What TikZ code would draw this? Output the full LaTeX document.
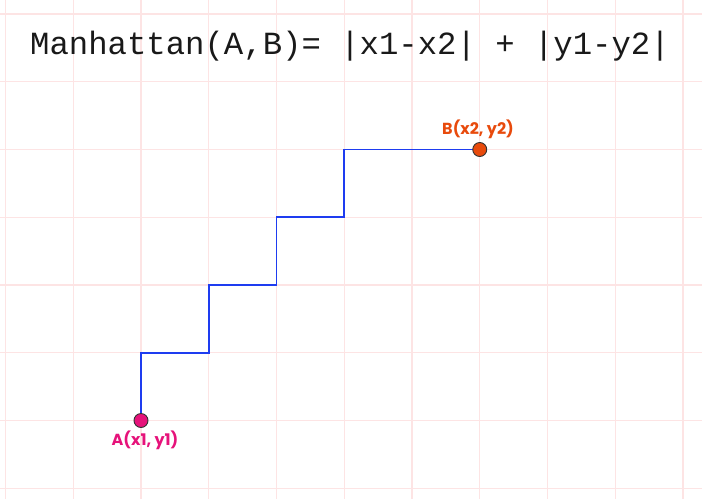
\documentclass[tikz,border=0pt]{standalone}
\usepackage{fontspec}
\setmonofont{Liberation Mono}
\newfontfamily\labfont{Poppins}
\usetikzlibrary{backgrounds}
\definecolor{gridpink}{HTML}{FDE4E4}
\definecolor{pathblue}{HTML}{1E3CF0}
\definecolor{apink}{HTML}{E6127A}
\definecolor{borange}{HTML}{E84A0C}
\tikzset{
  gridline/.style={draw=gridpink, line width=1.2pt},
  stair/.style={draw=pathblue, line width=1.6pt},
  dot/.style={circle, draw=black!80, line width=0.9pt, minimum size=14pt, inner sep=0pt},
  ptlabel/.style={font=\labfont\bfseries\fontsize{16}{18}\selectfont, inner sep=0pt},
  title/.style={font=\ttfamily\fontsize{32.3}{36}\selectfont, inner sep=0pt, text=black!90}
}
\def\g{67.75}
\begin{document}
\begin{tikzpicture}[x=1pt,y=-1pt]
  \useasboundingbox (0,0) rectangle (702,499);
  % corner coordinates
  \coordinate (c1) at ({5.5+2*\g},{14+5*\g});
  \coordinate (c2) at ({5.5+3*\g},{14+5*\g});
  \coordinate (c3) at ({5.5+3*\g},{14+4*\g});
  \coordinate (c4) at ({5.5+4*\g},{14+4*\g});
  \coordinate (c5) at ({5.5+4*\g},{14+3*\g});
  \coordinate (c6) at ({5.5+5*\g},{14+3*\g});
  \coordinate (c7) at ({5.5+5*\g},{14+2*\g});
  % points
  \node[dot, fill=apink] (A) at ({5.5+2*\g},{14+6*\g}) {};
  \node[dot, fill=borange] (B) at ({5.5+7*\g},{14+2*\g}) {};
  \node[ptlabel, text=apink, anchor=center] (Alab) at (145,440) {A(x1, y1)};
  \node[ptlabel, text=borange, anchor=center] (Blab) at (478,129) {B(x2, y2)};
  % title
  \node[title, anchor=base west] (T) at (30,54) {Manhattan(A,B)= |x1-x2| + |y1-y2|};
  \begin{scope}[on background layer]
    \fill[white] (0,0) rectangle (702,499);
    \foreach \k in {0,...,10} \draw[gridline] ({5.5+\k*\g},0) -- ({5.5+\k*\g},499);
    \foreach \k in {0,...,7} \draw[gridline] (0,{14+\k*\g}) -- (702,{14+\k*\g});
    \draw[stair] (A.center) -- (c1) -- (c2) -- (c3) -- (c4) -- (c5) -- (c6) -- (c7) -- (B.center);
  \end{scope}
\end{tikzpicture}
\end{document}
